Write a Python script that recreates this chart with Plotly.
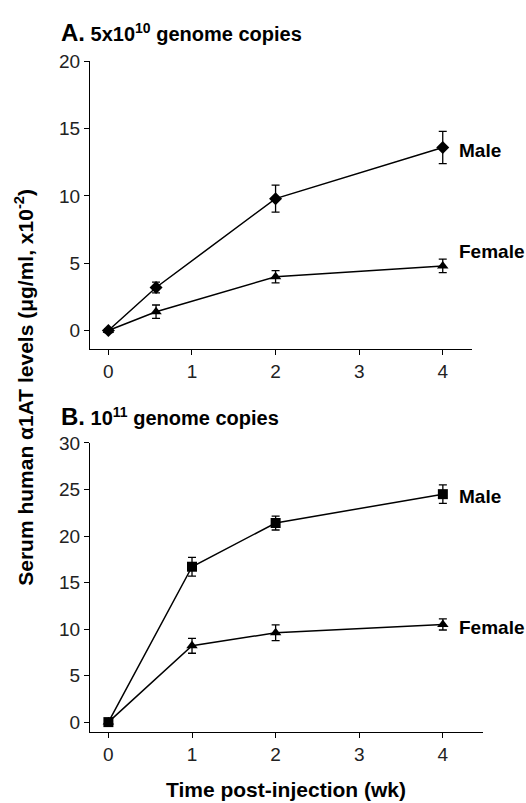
import plotly.graph_objects as go

# ---------------- data ----------------
weeks_a = [0, 0.57, 2, 4]
male_a = [0, 3.2, 9.8, 13.6]
male_a_err = [0.15, 0.4, 1.0, 1.2]
female_a = [0, 1.4, 4.0, 4.8]
female_a_err = [0.15, 0.5, 0.45, 0.5]

weeks_b = [0, 1, 2, 4]
male_b = [0, 16.7, 21.4, 24.5]
male_b_err = [0.2, 1.0, 0.75, 1.0]
female_b = [0, 8.2, 9.6, 10.5]
female_b_err = [0.2, 0.8, 0.85, 0.6]

x_ticks = [0, 1, 2, 3, 4]
y_ticks_a = [0, 5, 10, 15, 20]
y_ticks_b = [0, 5, 10, 15, 20, 25, 30]

W, H = 526, 803
FONT = "Liberation Sans, Arial, Helvetica, sans-serif"


def px_x(p):
    return p / W


def px_y(p):
    return 1 - p / H


fig = go.Figure()


def add_series(x, y, err, symbol, xa, ya, size):
    fig.add_trace(go.Scatter(
        x=x, y=y, mode="lines+markers",
        line=dict(color="black", width=1.5),
        marker=dict(symbol=symbol, size=size, color="black"),
        error_y=dict(type="data", array=err, visible=True, color="black",
                     thickness=1.3, width=4),
        xaxis=xa, yaxis=ya, showlegend=False, cliponaxis=False,
    ))


add_series(weeks_a, male_a, male_a_err, "diamond", "x", "y", 10)
add_series(weeks_a, female_a, female_a_err, "triangle-up", "x", "y", 10)
add_series(weeks_b, male_b, male_b_err, "square", "x2", "y2", 10)
add_series(weeks_b, female_b, female_b_err, "triangle-up", "x2", "y2", 10)

axis_common = dict(
    showgrid=False, zeroline=False, showline=True, linecolor="black",
    linewidth=1.3, ticks="outside", ticklen=5, tickwidth=1.3,
    tickcolor="black", tickfont=dict(family=FONT, size=19, color="#222"),
)

fig.update_layout(
    width=W, height=H,
    margin=dict(l=0, r=0, t=0, b=0),
    plot_bgcolor="white", paper_bgcolor="white",
    xaxis=dict(domain=[px_x(90), px_x(472)], range=[-0.22, 4.35],
               tickvals=x_ticks, anchor="y", **axis_common),
    yaxis=dict(domain=[px_y(344), px_y(52)], range=[-1.39, 20],
               tickvals=y_ticks_a, anchor="x", **axis_common),
    xaxis2=dict(domain=[px_x(90), px_x(483)], range=[-0.22, 4.48],
                tickvals=x_ticks, anchor="y2", **axis_common),
    yaxis2=dict(domain=[px_y(732), px_y(439)], range=[-1.06, 30],
                tickvals=y_ticks_b, anchor="x2", **axis_common),
)

label_font = dict(family=FONT, size=19, color="black")
ann = []
# series labels
ann.append(dict(x=4.17, y=male_a[-1] - 0.2, xref="x", yref="y", text="<b>Male</b>",
                showarrow=False, xanchor="left", yanchor="middle", font=label_font))
ann.append(dict(x=4.17, y=female_a[-1] + 1.05, xref="x", yref="y", text="<b>Female</b>",
                showarrow=False, xanchor="left", yanchor="middle", font=label_font))
ann.append(dict(x=4.17, y=male_b[-1] - 0.2, xref="x2", yref="y2", text="<b>Male</b>",
                showarrow=False, xanchor="left", yanchor="middle", font=label_font))
ann.append(dict(x=4.17, y=female_b[-1] - 0.3, xref="x2", yref="y2", text="<b>Female</b>",
                showarrow=False, xanchor="left", yanchor="middle", font=label_font))
# panel titles
ann.append(dict(x=px_x(59), y=px_y(23), xref="paper", yref="paper",
                text="<b><span style='font-size:24px'>A.</span> 5x10<sup>10</sup> genome copies</b>",
                showarrow=False, xanchor="left", yanchor="middle",
                font=dict(family=FONT, size=20, color="black")))
ann.append(dict(x=px_x(59), y=px_y(412), xref="paper", yref="paper",
                text="<b><span style='font-size:24px'>B.</span> 10<sup>11</sup> genome copies</b>",
                showarrow=False, xanchor="left", yanchor="middle",
                font=dict(family=FONT, size=20, color="black")))
# axis titles
ann.append(dict(x=px_x(24), y=px_y(383), xref="paper", yref="paper",
                text="<b>Serum human \u03b11AT levels (\u03bcg/ml, x10<sup>-2</sup>)</b>",
                textangle=-90, showarrow=False, xanchor="center", yanchor="middle",
                font=dict(family=FONT, size=21, color="black")))
ann.append(dict(x=px_x(286), y=px_y(790), xref="paper", yref="paper",
                text="<b>Time post-injection (wk)</b>",
                showarrow=False, xanchor="center", yanchor="middle",
                font=dict(family=FONT, size=21, color="black")))
fig.update_layout(annotations=ann)

fig.write_html("out.html")
